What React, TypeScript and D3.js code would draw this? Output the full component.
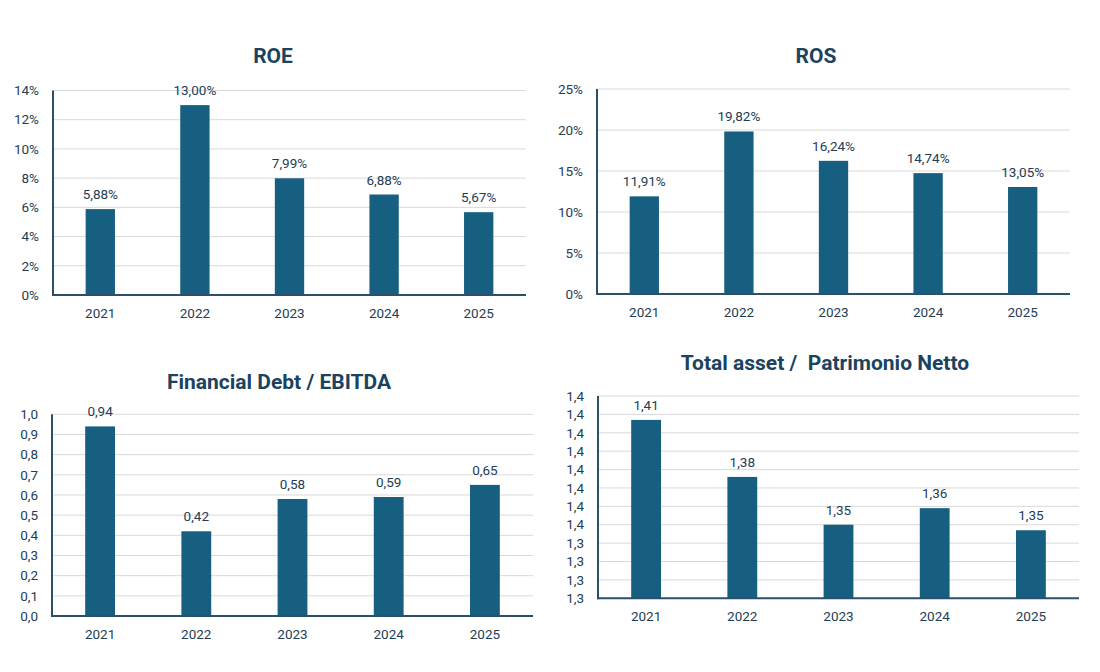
import { useEffect, useRef } from "react";
import { select, scaleBand, scaleLinear } from "d3";

const YEARS = ["2021", "2022", "2023", "2024", "2025"];

const ROE = [5.88, 13.0, 7.99, 6.88, 5.67];
const ROS = [11.91, 19.82, 16.24, 14.74, 13.05];
const DEBT_EBITDA = [0.94, 0.42, 0.58, 0.59, 0.65];
const ASSET_EQUITY = [1.407, 1.376, 1.35, 1.359, 1.347];

const ROE_TICKS = [0, 2, 4, 6, 8, 10, 12, 14];
const ROE_TICK_LABELS = ["0%", "2%", "4%", "6%", "8%", "10%", "12%", "14%"];
const ROS_TICKS = [0, 5, 10, 15, 20, 25];
const ROS_TICK_LABELS = ["0%", "5%", "10%", "15%", "20%", "25%"];
const DEBT_TICKS = [0, 0.1, 0.2, 0.3, 0.4, 0.5, 0.6, 0.7, 0.8, 0.9, 1.0];
const DEBT_TICK_LABELS = ["0,0", "0,1", "0,2", "0,3", "0,4", "0,5", "0,6", "0,7", "0,8", "0,9", "1,0"];
const ASSET_TICKS = [1.31, 1.32, 1.33, 1.34, 1.35, 1.36, 1.37, 1.38, 1.39, 1.4, 1.41, 1.42];
const ASSET_TICK_LABELS = ["1,3", "1,3", "1,3", "1,3", "1,4", "1,4", "1,4", "1,4", "1,4", "1,4", "1,4", "1,4"];

const BAR = "#175f80";
const GRID = "#d9d9d9";
const AXIS = "#2c5068";
const TITLE = "#1b4360";
const LABEL = "#233d55";
const FONT = "Roboto, 'Open Sans', sans-serif";

const pct = (v: number) => v.toFixed(2).replace(".", ",") + "%";
const dec = (v: number) => v.toFixed(2).replace(".", ",");

interface Panel {
  title: string;
  values: number[];
  ticks: number[];
  tickLabels: string[];
  fmt: (v: number) => string;
  x0: number;
  x1: number;
  yTop: number;
  yBot: number;
  titleX: number;
  titleY: number;
}

const PANELS: Panel[] = [
  { title: "ROE", values: ROE, ticks: ROE_TICKS, tickLabels: ROE_TICK_LABELS, fmt: pct,
    x0: 53, x1: 526, yTop: 90.5, yBot: 295, titleX: 273, titleY: 63 },
  { title: "ROS", values: ROS, ticks: ROS_TICKS, tickLabels: ROS_TICK_LABELS, fmt: pct,
    x0: 597, x1: 1070, yTop: 89, yBot: 294, titleX: 816, titleY: 63 },
  { title: "Financial Debt / EBITDA", values: DEBT_EBITDA, ticks: DEBT_TICKS, tickLabels: DEBT_TICK_LABELS, fmt: dec,
    x0: 52, x1: 533, yTop: 414.3, yBot: 616, titleX: 279, titleY: 389 },
  { title: "Total asset /  Patrimonio Netto", values: ASSET_EQUITY, ticks: ASSET_TICKS, tickLabels: ASSET_TICK_LABELS, fmt: dec,
    x0: 598, x1: 1079, yTop: 396, yBot: 598.3, titleX: 825, titleY: 370 },
];

export default function App() {
  const svgRef = useRef<SVGSVGElement>(null);

  useEffect(() => {
    document.body.style.margin = "0";
    const svg = select(svgRef.current);
    svg.selectAll("*").remove();

    PANELS.forEach((p) => {
      const g = svg.append("g");
      const x = scaleBand<string>()
        .domain(YEARS)
        .range([p.x0, p.x1])
        .paddingInner(0.69)
        .paddingOuter(0.345);
      const y = scaleLinear()
        .domain([p.ticks[0], p.ticks[p.ticks.length - 1]])
        .range([p.yBot, p.yTop]);

      // title
      g.append("text")
        .attr("x", p.titleX)
        .attr("y", p.titleY)
        .attr("text-anchor", "middle")
        .attr("fill", TITLE)
        .attr("font-family", FONT)
        .attr("font-weight", 700)
        .attr("font-size", "21px")
        .style("white-space", "pre")
        .text(p.title);

      // gridlines + y labels
      p.ticks.forEach((t, i) => {
        if (i > 0) {
          g.append("line")
            .attr("x1", p.x0)
            .attr("x2", p.x1)
            .attr("y1", y(t))
            .attr("y2", y(t))
            .attr("stroke", GRID)
            .attr("stroke-width", 1);
        }
        g.append("text")
          .attr("x", p.x0 - 14)
          .attr("y", y(t))
          .attr("dy", "0.35em")
          .attr("text-anchor", "end")
          .attr("fill", LABEL)
          .attr("font-family", FONT)
          .attr("font-size", "13.5px")
          .text(p.tickLabels[i]);
      });

      // bars
      p.values.forEach((v, i) => {
        const bx = x(YEARS[i]) ?? 0;
        g.append("rect")
          .attr("x", bx)
          .attr("y", y(v))
          .attr("width", x.bandwidth())
          .attr("height", p.yBot - y(v))
          .attr("fill", BAR);
        g.append("text")
          .attr("x", bx + x.bandwidth() / 2)
          .attr("y", y(v) - 10)
          .attr("text-anchor", "middle")
          .attr("fill", LABEL)
          .attr("font-family", FONT)
          .attr("font-size", "13.5px")
          .text(p.fmt(v));
        g.append("text")
          .attr("x", bx + x.bandwidth() / 2)
          .attr("y", p.yBot + 18)
          .attr("dy", "0.35em")
          .attr("text-anchor", "middle")
          .attr("fill", LABEL)
          .attr("font-family", FONT)
          .attr("font-size", "13.5px")
          .text(YEARS[i]);
      });

      // axes
      g.append("line")
        .attr("x1", p.x0)
        .attr("x2", p.x0)
        .attr("y1", p.yTop)
        .attr("y2", p.yBot + 1)
        .attr("stroke", AXIS)
        .attr("stroke-width", 2);
      g.append("line")
        .attr("x1", p.x0 - 1)
        .attr("x2", p.x1)
        .attr("y1", p.yBot)
        .attr("y2", p.yBot)
        .attr("stroke", AXIS)
        .attr("stroke-width", 2);
    });
  }, []);

  return <svg ref={svgRef} width={1100} height={672} style={{ display: "block" }} />;
}
